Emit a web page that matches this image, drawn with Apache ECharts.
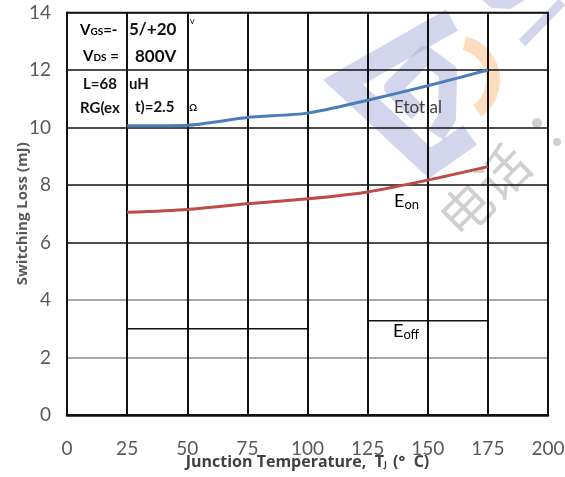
<!DOCTYPE html>
<html>
<head>
<meta charset="utf-8">
<script src="https://cdn.jsdelivr.net/npm/echarts@6/dist/echarts.min.js"></script>
<style>
  html, body { margin: 0; padding: 0; background: #fff; }
  #chart { width: 565px; height: 477px; }
</style>
</head>
<body>
<div id="chart"></div>
<script>
// junction temperature (°C)
const temps = [25, 50, 75, 100, 125, 150, 175];
// switching losses (mJ)
const eTotal = [10.06, 10.08, 10.35, 10.5, 10.95, 11.45, 12.0];
const eOn = [7.05, 7.15, 7.35, 7.52, 7.76, 8.17, 8.64];
const eOffLow = [3.0, 3.0, 3.0, 3.0];      // 25..100
const eOffHigh = [3.28, 3.28, 3.28];       // 125..175
const xTicks = [0, 25, 50, 75, 100, 125, 150, 175, 200];
const yTicks = [0, 2, 4, 6, 8, 10, 12, 14];

const font = 'Lato, "Open Sans", sans-serif';
const boldFont = '"Open Sans", Lato, sans-serif';
var myChart = echarts.init(document.getElementById('chart'));

function pairs(xs, ys) {
  return ys.map((v, i) => [xs[i], v]);
}

// split line colours: 0..14, the two lower ones are grey
const hColors = yTicks.map((v) => (v === 2 || v === 4 ? '#8a8a8a' : '#111'));

// faint watermark behind the plot (rough copy of the logo)
const wmBlue = 'rgba(165,172,218,0.5)';
const watermark = [
  {
    type: 'polyline', silent: true, z: -1,
    shape: { points: [[452, 20], [343, 82], [430, 163], [470, 135]] },
    style: { stroke: wmBlue, lineWidth: 24, fill: null, lineJoin: 'miter' },
  },
  {
    type: 'polyline', silent: true, z: -1,
    shape: { points: [[418, 113], [393, 88], [425, 55], [448, 72], [447, 118], [436, 135]] },
    style: { stroke: wmBlue, lineWidth: 18, fill: null, lineJoin: 'round' },
  },
  {
    type: 'line', silent: true, z: -1,
    shape: { x1: 522, y1: 43, x2: 562, y2: 2 },
    style: { stroke: wmBlue, lineWidth: 9 },
  },
  {
    type: 'polygon', silent: true, z: -1,
    shape: { points: [[482, 0], [525, 0], [510, 9], [492, 8]] },
    style: { fill: wmBlue },
  },
  {
    type: 'arc', silent: true, z: -1,
    shape: { cx: 455, cy: 80, r: 38, startAngle: -Math.PI * 0.42, endAngle: Math.PI * 0.3 },
    style: { stroke: 'rgba(253,196,150,0.6)', lineWidth: 14, fill: null },
  },
  {
    type: 'text', silent: true, z: -1,
    x: 466, y: 246, rotation: Math.PI / 4,
    style: { text: '电话', fontSize: 52, fontFamily: '"Noto Sans CJK SC"', fill: 'rgba(150,150,150,0.45)', verticalAlign: 'bottom' },
  },
  {
    type: 'circle', silent: true, z: -1,
    shape: { cx: 537, cy: 123, r: 5 },
    style: { fill: 'rgba(150,150,150,0.45)' },
  },
  {
    type: 'circle', silent: true, z: -1,
    shape: { cx: 557, cy: 142, r: 4 },
    style: { fill: 'rgba(150,150,150,0.45)' },
  },
];

function richBold() {
  return {
    b: { fontFamily: font, fontWeight: 'bold', fontSize: 15, color: '#111' },
    s: { fontFamily: font, fontWeight: 'bold', fontSize: 10, color: '#111', padding: [4, 0, 0, 0] },
  };
}
function richLabel() {
  return {
    b: { fontFamily: font, fontSize: 18, color: '#404040' },
    s: { fontFamily: font, fontSize: 13, color: '#404040', padding: [8, 0, 0, 0] },
  };
}
function txt(x, y, text, f) {
  return { type: 'text', x: x, y: y, z: 10, style: { text: text, font: f, fill: '#111', verticalAlign: 'middle' } };
}

const annotations = [
  // test condition box
  { type: 'text', x: 80, y: 30, z: 10, style: { text: '{b|V}{s|GS}{b|=-}', rich: richBold(), verticalAlign: 'middle' } },
  txt(129, 30, '5/+20', 'bold 17px ' + font),
  txt(190, 21, 'v', '9px ' + font),
  { type: 'text', x: 83, y: 56, z: 10, style: { text: '{b|V}{s|DS}{b| =}', rich: richBold(), verticalAlign: 'middle' } },
  txt(135, 57, '800V', 'bold 17px ' + font),
  txt(83, 84, 'L=68', 'bold 15px ' + font),
  txt(129, 84, 'uH', 'bold 15px ' + font),
  txt(80, 108, 'RG(ex', 'bold 15px ' + font),
  txt(135, 107, 't)=2.5', 'bold 15px ' + font),
  txt(189, 108, 'Ω', 'bold 10px ' + font),
  // curve labels
  { type: 'text', x: 394, y: 108, z: 10, style: { text: 'Etot al', font: '17px ' + font, fill: '#404040', verticalAlign: 'middle' } },
  { type: 'text', x: 394, y: 201, z: 10, style: { text: '{b|E}{s|on}', rich: richLabel(), verticalAlign: 'middle' } },
  { type: 'text', x: 393, y: 331, z: 10, style: { text: '{b|E}{s|off}', rich: richLabel(), verticalAlign: 'middle' } },
];

var option = {
  animation: false,
  backgroundColor: '#fff',
  grid: {
    left: 67,
    right: 17,
    top: 12.5,
    bottom: 62,
    outerBoundsMode: 'none',
    containLabel: false,
    show: true,
    borderColor: '#111',
    borderWidth: 1.5,
  },
  xAxis: {
    type: 'value',
    min: 0,
    max: 200,
    interval: 25,
    name: '{b|Junction Temperature,  T}{s|J}{b| (°  C)}',
    nameLocation: 'middle',
    nameGap: 39,
    nameMoveOverlap: false,
    nameTextStyle: {
      rich: {
        b: { fontFamily: boldFont, fontWeight: 'bold', fontSize: 16, color: '#404040' },
        s: { fontFamily: boldFont, fontWeight: 'bold', fontSize: 9, color: '#404040', padding: [5, 2, 0, 0] },
      },
    },
    axisLine: { show: true, lineStyle: { color: '#111', width: 2.5 } },
    axisTick: { show: false },
    axisLabel: {
      fontFamily: font,
      fontSize: 19,
      color: '#595959',
      margin: 24,
      formatter: (v) => (xTicks.includes(v) ? String(v) : ''),
    },
    splitLine: { show: true, lineStyle: { color: '#111', width: 2 } },
  },
  yAxis: {
    type: 'value',
    min: 0,
    max: 14,
    interval: 2,
    name: 'Switching Loss (mJ)',
    nameLocation: 'middle',
    nameGap: 37,
    nameMoveOverlap: false,
    nameTextStyle: { fontFamily: boldFont, fontWeight: 'bold', fontSize: 15, color: '#595959' },
    axisLine: { show: true, lineStyle: { color: '#111', width: 2 } },
    axisTick: { show: false },
    axisLabel: {
      fontFamily: font,
      fontSize: 19,
      color: '#595959',
      margin: 16,
      formatter: (v) => (yTicks.includes(v) ? String(v) : ''),
    },
    splitLine: { show: true, lineStyle: { color: hColors, width: 1.5 } },
  },
  graphic: watermark.concat(annotations),
  series: [
    {
      name: 'Etotal',
      type: 'line',
      data: pairs(temps, eTotal),
      smooth: 0.25,
      symbol: 'none',
      z: 5,
      lineStyle: { color: '#4a7ebb', width: 3 },
    },
    {
      name: 'Eon',
      type: 'line',
      data: pairs(temps, eOn),
      smooth: 0.25,
      symbol: 'none',
      z: 5,
      lineStyle: { color: '#be4b48', width: 3 },
    },
    {
      name: 'Eoff',
      type: 'line',
      data: pairs(temps.slice(0, 4), eOffLow),
      symbol: 'none',
      z: 5,
      lineStyle: { color: '#111', width: 1.5 },
    },
    {
      name: 'Eoff',
      type: 'line',
      data: pairs(temps.slice(4), eOffHigh),
      symbol: 'none',
      z: 5,
      lineStyle: { color: '#111', width: 1.5 },
    },
  ],
};

myChart.setOption(option);
</script>
</body>
</html>
